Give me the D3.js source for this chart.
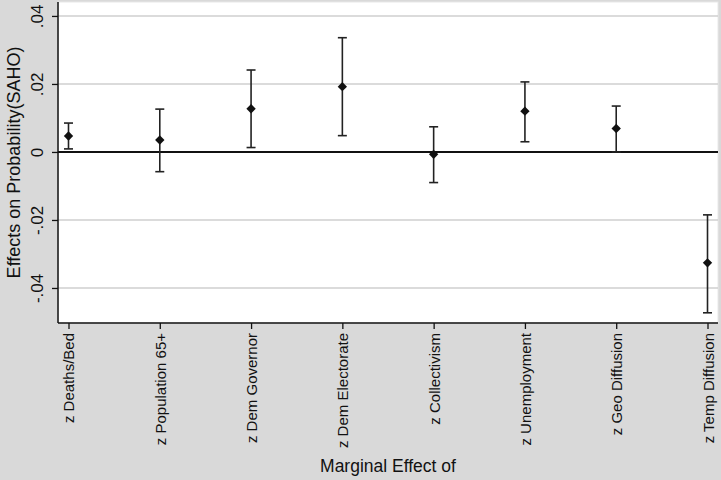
<!DOCTYPE html>
<html>
<head>
<meta charset="utf-8">
<script src="https://cdn.jsdelivr.net/npm/d3@7"></script>
<style>
  body { margin: 0; background: #d9d9d9; }
  svg { display: block; font-family: "Liberation Sans", Arial, sans-serif; }
</style>
</head>
<body>
<div id="chart"></div>
<script>
// marginal effects with confidence intervals
const categories = ["z Deaths/Bed", "z Population 65+", "z Dem Governor", "z Dem Electorate",
                    "z Collectivism", "z Unemployment", "z Geo Diffusion", "z Temp Diffusion"];
const estimates = [0.0047, 0.0035, 0.0127, 0.0192, -0.0007, 0.0120, 0.0069, -0.0326];
const upper     = [0.0085, 0.0126, 0.0241, 0.0336, 0.0074, 0.0206, 0.0135, -0.0185];
const lower     = [0.0009, -0.0058, 0.0013, 0.0048, -0.0090, 0.0030, 0.0000, -0.0473];
const yTicks = [-0.04, -0.02, 0, 0.02, 0.04];
const yTickLabels = ["-.04", "-.02", "0", ".02", ".04"];

const data = categories.map((c, i) => ({ name: c, est: estimates[i], hi: upper[i], lo: lower[i] }));

const W = 721, H = 480;
const margin = { top: 2, right: 3, bottom: 157, left: 58 };
const width = W - margin.left - margin.right;
const height = H - margin.top - margin.bottom;

const svg = d3.select("#chart").append("svg")
    .attr("width", W)
    .attr("height", H);

svg.append("rect").attr("width", W).attr("height", H).attr("fill", "#d9d9d9");

const g = svg.append("g")
    .attr("transform", `translate(${margin.left},${margin.top})`);

g.append("rect")
    .attr("width", width)
    .attr("height", height)
    .attr("fill", "white")
    .attr("stroke", "#e8e8e8");

const x = d3.scalePoint()
    .domain(categories)
    .range([0, width])
    .padding(0.115);

const y = d3.scaleLinear()
    .domain([-0.0503, 0.0441])
    .range([height, 0]);

// gridlines
g.selectAll(".grid")
    .data(yTicks.filter(d => d !== 0))
    .enter().append("line")
    .attr("class", "grid")
    .attr("x1", 0).attr("x2", width)
    .attr("y1", d => y(d)).attr("y2", d => y(d))
    .attr("stroke", "#cfcfcf")
    .attr("stroke-width", 1.5);

// zero line
g.append("line")
    .attr("x1", 0).attr("x2", width)
    .attr("y1", y(0)).attr("y2", y(0))
    .attr("stroke", "#111")
    .attr("stroke-width", 2);

// y axis
const yAxis = g.append("g")
    .call(d3.axisLeft(y).tickValues(yTicks).tickSize(6).tickFormat((d, i) => yTickLabels[i]));
yAxis.select(".domain").attr("stroke", "#111").attr("stroke-width", 1.5)
    .attr("d", `M0,0V${height}`);
yAxis.selectAll(".tick line").attr("stroke", "#111").attr("stroke-width", 1.3);
yAxis.selectAll(".tick text")
    .attr("x", null).attr("dy", null)
    .attr("transform", "translate(-21,0) rotate(-90)")
    .attr("text-anchor", "middle")
    .attr("dominant-baseline", "central")
    .style("font-size", "17px")
    .attr("fill", "#111");

// x axis
const xAxis = g.append("g")
    .attr("transform", `translate(0,${height})`)
    .call(d3.axisBottom(x).tickSize(6));
xAxis.select(".domain").attr("stroke", "#111").attr("stroke-width", 1.5)
    .attr("d", `M0,0H${width}`);
xAxis.selectAll(".tick line").attr("stroke", "#111").attr("stroke-width", 1.3);
xAxis.selectAll(".tick text")
    .attr("y", null).attr("dy", null)
    .attr("transform", "translate(0,10) rotate(-90)")
    .attr("text-anchor", "end")
    .attr("dominant-baseline", "central")
    .style("font-size", "15px")
    .attr("fill", "#111");

// error bars
const bars = g.selectAll(".ci")
    .data(data)
    .enter().append("g")
    .attr("class", "ci")
    .attr("stroke", "#222")
    .attr("stroke-width", 1.6);
bars.append("line")
    .attr("x1", d => x(d.name)).attr("x2", d => x(d.name))
    .attr("y1", d => y(d.hi)).attr("y2", d => y(d.lo));
bars.append("line")
    .attr("x1", d => x(d.name) - 4.5).attr("x2", d => x(d.name) + 4.5)
    .attr("y1", d => y(d.hi)).attr("y2", d => y(d.hi));
bars.append("line")
    .attr("x1", d => x(d.name) - 4.5).attr("x2", d => x(d.name) + 4.5)
    .attr("y1", d => y(d.lo)).attr("y2", d => y(d.lo));

// point estimates
g.selectAll(".pt")
    .data(data)
    .enter().append("path")
    .attr("class", "pt")
    .attr("d", d3.symbol().type(d3.symbolDiamond2).size(56))
    .attr("transform", d => `translate(${x(d.name)},${y(d.est)})`)
    .attr("fill", "#111");

// axis titles
svg.append("text")
    .attr("transform", `translate(14,${margin.top + height / 2}) rotate(-90)`)
    .attr("text-anchor", "middle")
    .attr("dominant-baseline", "central")
    .style("font-size", "18px")
    .attr("fill", "#111")
    .text("Effects on Probability(SAHO)");

svg.append("text")
    .attr("x", margin.left + width / 2)
    .attr("y", 466)
    .attr("text-anchor", "middle")
    .attr("dominant-baseline", "central")
    .style("font-size", "17.5px")
    .attr("fill", "#111")
    .text("Marginal Effect of");
</script>
</body>
</html>
